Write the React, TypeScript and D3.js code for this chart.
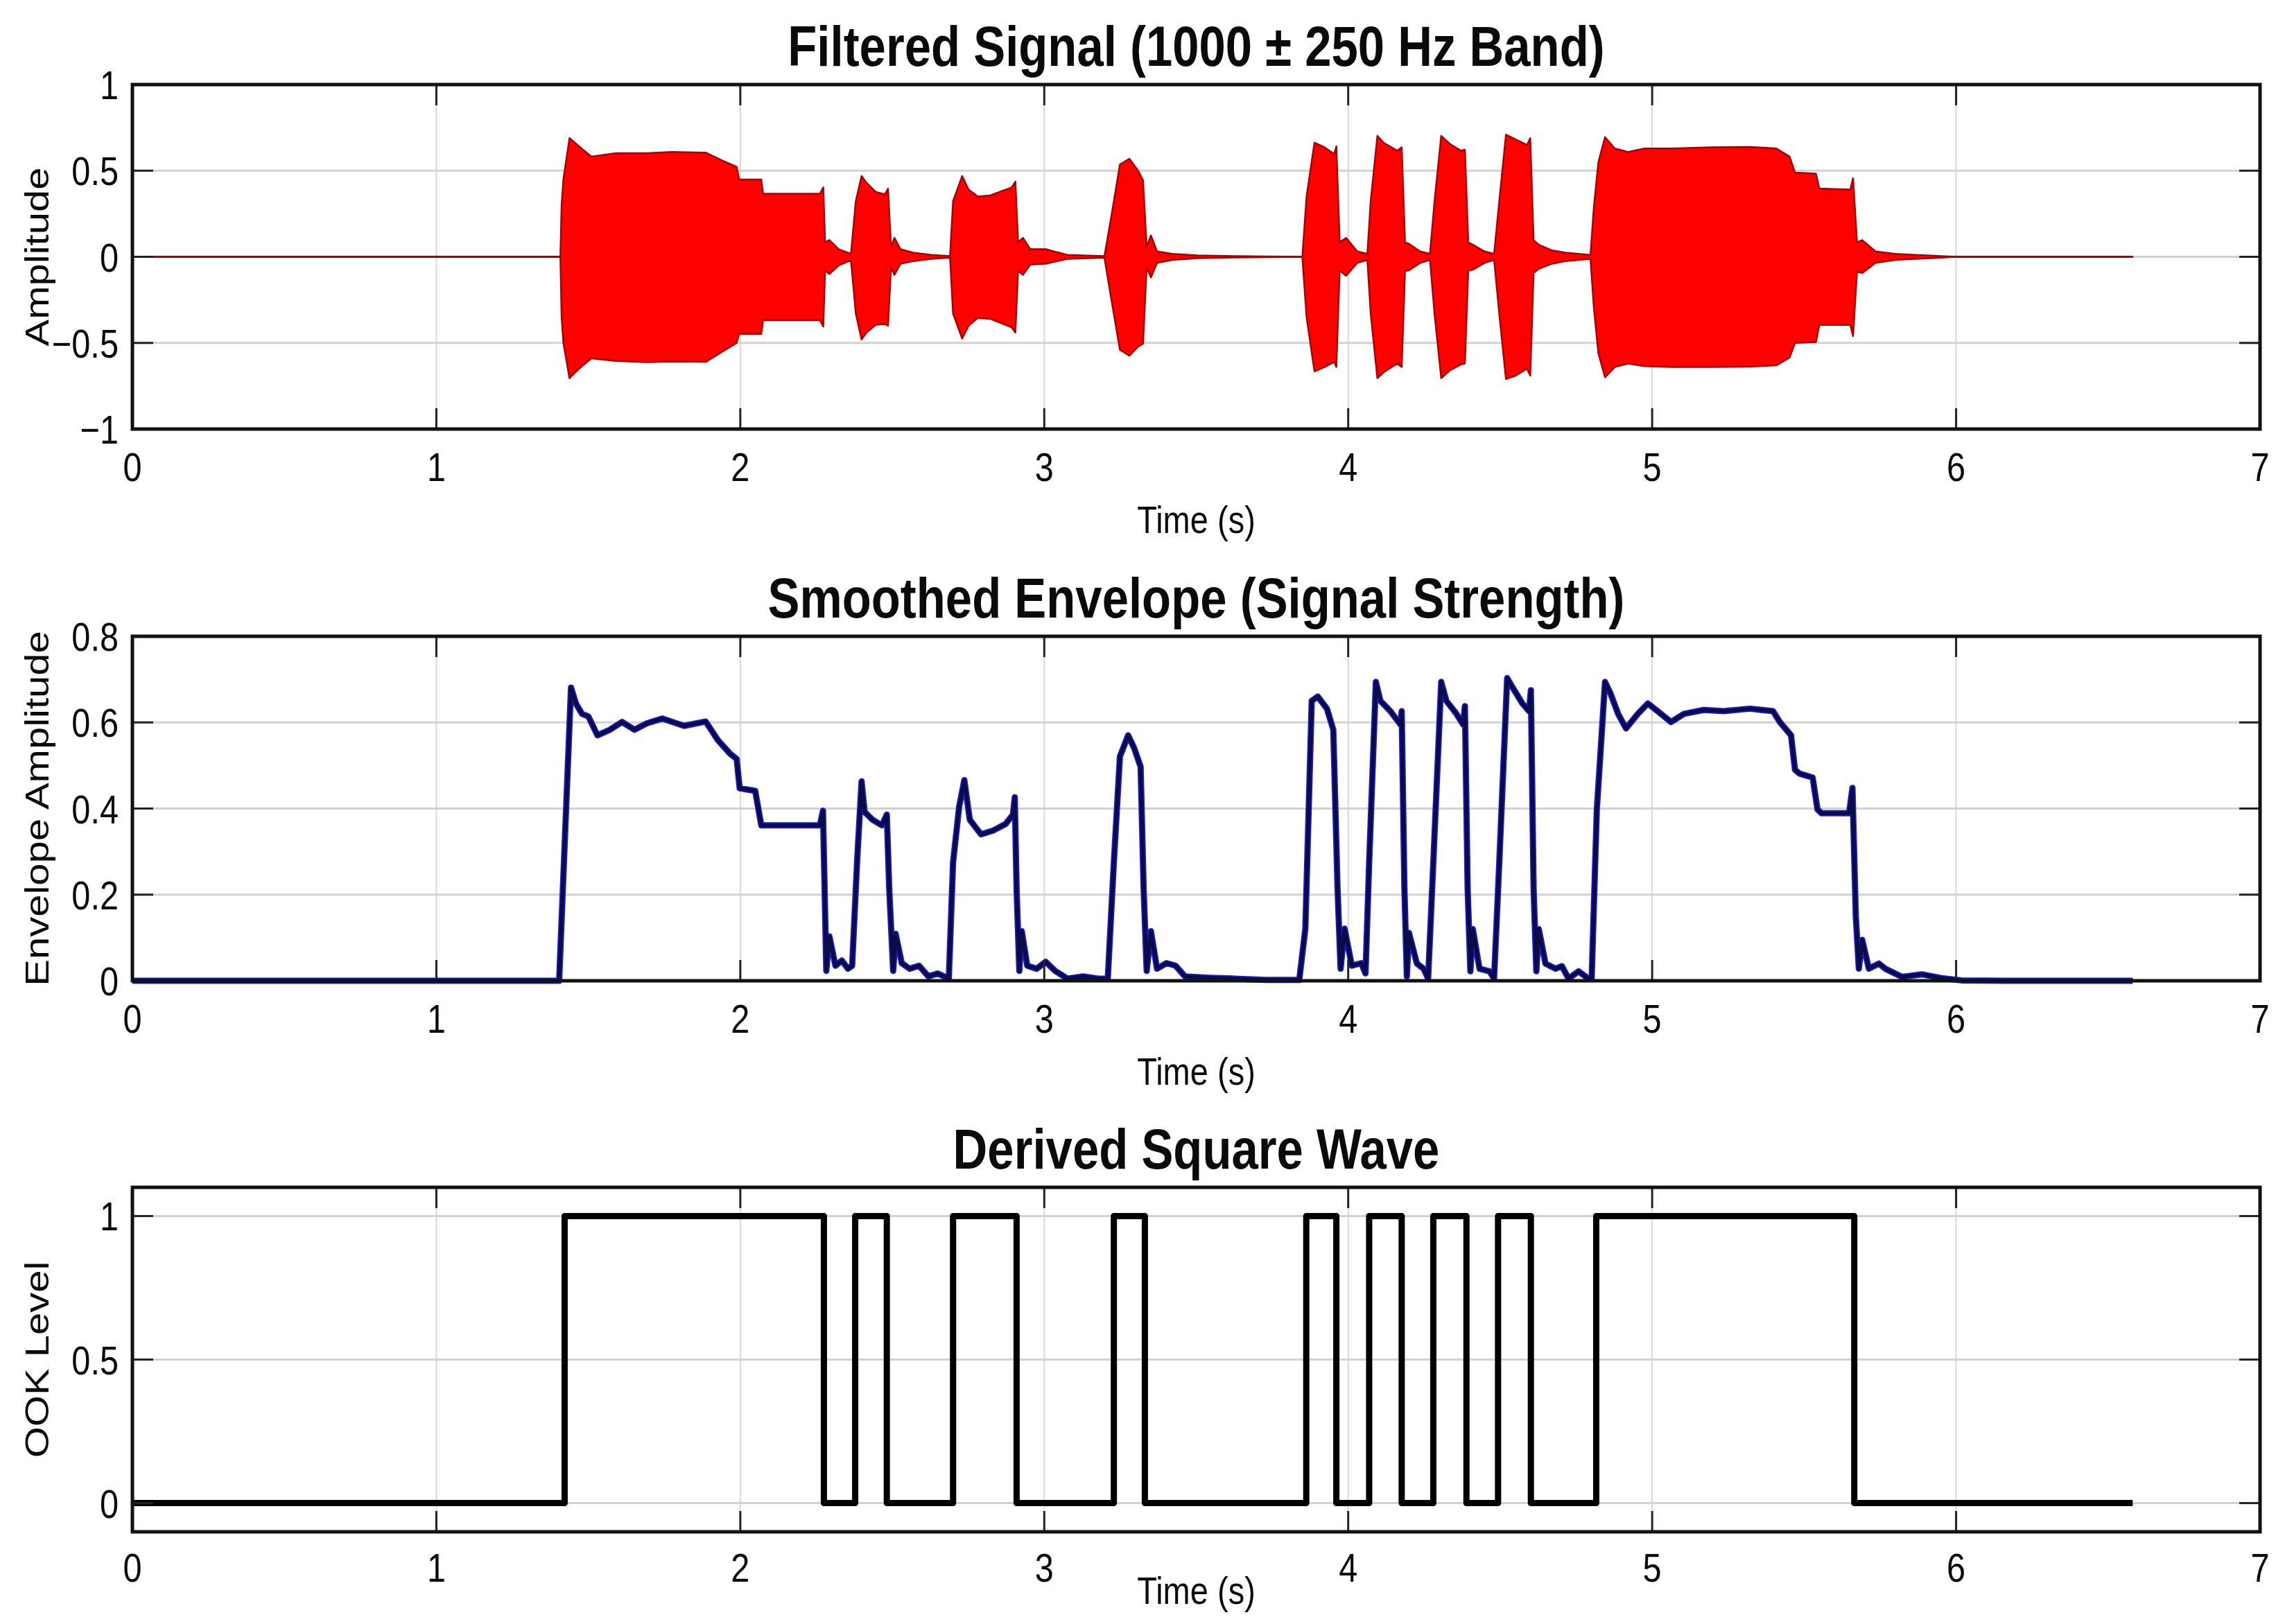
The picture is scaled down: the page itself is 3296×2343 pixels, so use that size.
import * as d3 from "d3";
import React from "react";

// ---- data ----
const xTicks = [0, 1, 2, 3, 4, 5, 6, 7];

// filtered signal: upper / lower edge of the oscillation band
const sigTime = [0, 1.408, 1.412, 1.418, 1.438, 1.469, 1.51, 1.591, 1.693, 1.774, 1.886, 1.937, 1.988, 1.996, 2.069, 2.075, 2.262, 2.273, 2.279, 2.293, 2.324, 2.364, 2.38, 2.399, 2.415, 2.446, 2.476, 2.486, 2.496, 2.507, 2.527, 2.568, 2.629, 2.69, 2.7, 2.73, 2.751, 2.781, 2.822, 2.893, 2.905, 2.914, 2.93, 2.954, 3.005, 3.076, 3.198, 3.219, 3.249, 3.28, 3.31, 3.325, 3.337, 3.351, 3.371, 3.422, 3.504, 3.626, 3.849, 3.863, 3.889, 3.922, 3.954, 3.961, 3.972, 3.993, 4.03, 4.063, 4.074, 4.096, 4.117, 4.161, 4.176, 4.187, 4.198, 4.237, 4.269, 4.284, 4.306, 4.334, 4.371, 4.384, 4.395, 4.41, 4.449, 4.48, 4.497, 4.519, 4.551, 4.588, 4.599, 4.61, 4.627, 4.671, 4.714, 4.758, 4.797, 4.808, 4.823, 4.845, 4.877, 4.921, 4.975, 5.062, 5.192, 5.322, 5.409, 5.452, 5.47, 5.539, 5.55, 5.652, 5.661, 5.674, 5.691, 5.735, 5.8, 5.865, 5.952, 5.995, 6.581];
const sigUpper = [0, 0, 0.3, 0.45, 0.689, 0.642, 0.582, 0.602, 0.602, 0.609, 0.605, 0.562, 0.523, 0.449, 0.449, 0.366, 0.366, 0.403, 0.084, 0.097, 0.044, 0.017, 0.323, 0.469, 0.43, 0.376, 0.363, 0.396, 0.057, 0.11, 0.044, 0.024, 0.011, 0.004, 0.323, 0.469, 0.39, 0.35, 0.356, 0.403, 0.436, 0.084, 0.11, 0.044, 0.044, 0.011, 0.004, 0.217, 0.536, 0.569, 0.497, 0.443, 0.057, 0.124, 0.031, 0.017, 0.008, 0.004, 0, 0.35, 0.662, 0.636, 0.596, 0.642, 0.084, 0.11, 0.031, 0.017, 0.323, 0.702, 0.662, 0.616, 0.636, 0.084, 0.077, 0.031, 0.017, 0.323, 0.702, 0.656, 0.616, 0.622, 0.084, 0.07, 0.031, 0.017, 0.323, 0.709, 0.682, 0.649, 0.689, 0.097, 0.07, 0.037, 0.024, 0.017, 0.011, 0.283, 0.549, 0.695, 0.629, 0.609, 0.629, 0.629, 0.636, 0.638, 0.629, 0.582, 0.489, 0.483, 0.396, 0.39, 0.456, 0.084, 0.097, 0.031, 0.017, 0.011, 0.004, 0, 0];
const sigLower = [0, 0, -0.35, -0.5, -0.705, -0.65, -0.59, -0.605, -0.612, -0.608, -0.61, -0.555, -0.5, -0.448, -0.448, -0.368, -0.368, -0.405, -0.08, -0.1, -0.05, -0.02, -0.33, -0.48, -0.44, -0.395, -0.39, -0.4, -0.06, -0.105, -0.04, -0.025, -0.012, -0.005, -0.33, -0.475, -0.4, -0.355, -0.36, -0.41, -0.44, -0.08, -0.105, -0.045, -0.04, -0.012, -0.005, -0.23, -0.54, -0.574, -0.52, -0.505, -0.06, -0.12, -0.035, -0.018, -0.008, -0.004, 0, -0.35, -0.665, -0.64, -0.61, -0.64, -0.08, -0.11, -0.035, -0.018, -0.33, -0.705, -0.67, -0.62, -0.64, -0.08, -0.08, -0.035, -0.018, -0.33, -0.705, -0.66, -0.625, -0.62, -0.08, -0.075, -0.035, -0.018, -0.33, -0.71, -0.69, -0.65, -0.69, -0.095, -0.07, -0.04, -0.025, -0.018, -0.012, -0.29, -0.56, -0.7, -0.64, -0.62, -0.635, -0.64, -0.64, -0.638, -0.63, -0.585, -0.5, -0.495, -0.395, -0.395, -0.46, -0.085, -0.095, -0.035, -0.018, -0.012, -0.005, 0, 0];

// smoothed envelope
const envTime = [0, 1.404, 1.443, 1.459, 1.479, 1.5, 1.53, 1.571, 1.611, 1.652, 1.693, 1.744, 1.815, 1.886, 1.927, 1.967, 1.988, 1.998, 2.049, 2.069, 2.262, 2.272, 2.283, 2.293, 2.313, 2.334, 2.354, 2.368, 2.385, 2.399, 2.409, 2.435, 2.466, 2.482, 2.49, 2.503, 2.511, 2.531, 2.557, 2.588, 2.619, 2.649, 2.686, 2.7, 2.72, 2.737, 2.755, 2.792, 2.832, 2.873, 2.897, 2.903, 2.909, 2.918, 2.926, 2.944, 2.975, 3.005, 3.036, 3.076, 3.127, 3.178, 3.209, 3.229, 3.249, 3.276, 3.296, 3.317, 3.327, 3.337, 3.351, 3.371, 3.402, 3.432, 3.463, 3.544, 3.626, 3.728, 3.839, 3.859, 3.88, 3.9, 3.93, 3.951, 3.965, 3.975, 3.988, 4.012, 4.043, 4.057, 4.069, 4.091, 4.106, 4.139, 4.172, 4.176, 4.185, 4.193, 4.2, 4.226, 4.248, 4.263, 4.28, 4.306, 4.323, 4.356, 4.378, 4.384, 4.393, 4.402, 4.41, 4.432, 4.465, 4.48, 4.497, 4.523, 4.541, 4.573, 4.595, 4.601, 4.61, 4.619, 4.627, 4.649, 4.682, 4.703, 4.725, 4.758, 4.79, 4.801, 4.818, 4.845, 4.862, 4.888, 4.914, 4.953, 4.986, 5.018, 5.062, 5.105, 5.17, 5.235, 5.322, 5.398, 5.42, 5.457, 5.47, 5.485, 5.528, 5.544, 5.557, 5.648, 5.659, 5.67, 5.68, 5.691, 5.713, 5.746, 5.767, 5.822, 5.887, 5.952, 6.017, 6.169, 6.581];
const envValue = [0, 0, 0.681, 0.644, 0.62, 0.614, 0.57, 0.583, 0.601, 0.583, 0.598, 0.609, 0.592, 0.602, 0.558, 0.527, 0.515, 0.447, 0.441, 0.361, 0.361, 0.395, 0.023, 0.103, 0.035, 0.047, 0.028, 0.035, 0.287, 0.463, 0.392, 0.374, 0.361, 0.386, 0.213, 0.023, 0.109, 0.041, 0.028, 0.035, 0.01, 0.017, 0.005, 0.275, 0.404, 0.466, 0.374, 0.34, 0.349, 0.364, 0.386, 0.426, 0.213, 0.023, 0.115, 0.035, 0.028, 0.044, 0.023, 0.005, 0.01, 0.005, 0.005, 0.275, 0.521, 0.57, 0.54, 0.497, 0.213, 0.023, 0.115, 0.028, 0.041, 0.035, 0.01, 0.007, 0.005, 0.002, 0.002, 0.121, 0.65, 0.66, 0.632, 0.583, 0.213, 0.028, 0.121, 0.035, 0.041, 0.017, 0.275, 0.694, 0.65, 0.626, 0.595, 0.626, 0.213, 0.01, 0.111, 0.04, 0.028, 0.005, 0.274, 0.694, 0.65, 0.62, 0.595, 0.638, 0.213, 0.022, 0.12, 0.028, 0.022, 0.005, 0.274, 0.703, 0.681, 0.644, 0.626, 0.675, 0.213, 0.022, 0.12, 0.04, 0.028, 0.034, 0.005, 0.022, 0.005, 0.005, 0.398, 0.694, 0.669, 0.62, 0.586, 0.62, 0.644, 0.626, 0.601, 0.62, 0.629, 0.626, 0.632, 0.626, 0.601, 0.57, 0.49, 0.481, 0.472, 0.398, 0.389, 0.389, 0.448, 0.151, 0.028, 0.095, 0.028, 0.04, 0.028, 0.009, 0.015, 0.006, 0.001, 0, 0];

// derived square wave (level holds until next switch time)
const ookTime = [0, 1.422, 2.275, 2.378, 2.482, 2.7, 2.909, 3.229, 3.331, 3.862, 3.961, 4.069, 4.176, 4.28, 4.389, 4.493, 4.601, 4.816, 5.665, 6.581];
const ookLevel = [0, 1, 0, 1, 0, 1, 0, 1, 0, 1, 0, 1, 0, 1, 0, 1, 0, 1, 0, 0];

const sigTicks = [-1, -0.5, 0, 0.5, 1];
const envTicks = [0, 0.2, 0.4, 0.6, 0.8];
const ookTicks = [0, 0.5, 1];

// ---- layout ----
const W = 3296, Hh = 2343;
const L = 191, R = 3260, PH = 497;
const TOPS = [122, 918, 1713];
const SX = 0.84;
const FONT = "'Liberation Sans', Arial, Helvetica, sans-serif";

const x = d3.scaleLinear().domain([0, 7]).range([L, R]);

const HText: React.FC<{ x: number; y: number; anchor?: string; size: number; bold?: boolean; children: React.ReactNode }> = ({ x, y, anchor = "middle", size, bold, children }) => (
    <text transform={`translate(${x},${y}) scale(${SX},1)`} textAnchor={anchor} fontSize={size} fontWeight={bold ? "bold" : "normal"} fontFamily={FONT} fill="#0a0a0a">{children}</text>
);

const VText: React.FC<{ x: number; y: number; size: number; children: React.ReactNode }> = ({ x, y, size, children }) => (
    <text transform={`translate(${x},${y}) scale(${SX},1) rotate(-90)`} textAnchor="middle" fontSize={size} fontFamily={FONT} fill="#0a0a0a">{children}</text>
);

const fmt = (v: number) => (v < 0 ? "\u2212" + String(-v) : String(v));

const Frame: React.FC<{ top: number; y: d3.ScaleLinear<number, number>; yTicks: number[]; title: string; ylabel: string; tickOff: number; xlabOff: number; children?: React.ReactNode }> = ({ top, y, yTicks, title, ylabel, tickOff, xlabOff, children }) => {
    const bottom = top + PH;
    const [d0, d1] = y.domain();
    const innerY = yTicks.filter(t => t > d0 && t < d1);
    const tl = 30;
    return (
        <g>
            {/* grid */}
            {xTicks.slice(1, -1).map(t => (<line key={"gx" + t} x1={x(t)} x2={x(t)} y1={top} y2={bottom} stroke="#d8d8d8" strokeWidth={2} />))}
            {innerY.map(t => (<line key={"gy" + t} x1={L} x2={R} y1={y(t)} y2={y(t)} stroke="#d2d2d2" strokeWidth={3} />))}
            {children}
            {/* ticks, inward on all sides */}
            {xTicks.map(t => (
                <g key={"tx" + t}>
                    <line x1={x(t)} x2={x(t)} y1={bottom} y2={bottom - tl} stroke="#222" strokeWidth={3} />
                    <line x1={x(t)} x2={x(t)} y1={top} y2={top + tl} stroke="#222" strokeWidth={3} />
                </g>
            ))}
            {yTicks.map(t => (
                <g key={"ty" + t}>
                    <line x1={L} x2={L + tl} y1={y(t)} y2={y(t)} stroke="#222" strokeWidth={3} />
                    <line x1={R} x2={R - tl} y1={y(t)} y2={y(t)} stroke="#222" strokeWidth={3} />
                </g>
            ))}
            <rect x={L} y={top} width={R - L} height={PH} fill="none" stroke="#111" strokeWidth={5} />
            {/* labels */}
            {xTicks.map(t => (<HText key={"lx" + t} x={x(t)} y={bottom + tickOff} size={58}>{t}</HText>))}
            {yTicks.map(t => (<HText key={"ly" + t} x={L - 20} y={y(t) + 21} anchor="end" size={58}>{fmt(t)}</HText>))}
            <HText x={(L + R) / 2} y={bottom + xlabOff} size={56}>Time (s)</HText>
            <VText x={70} y={top + PH / 2} size={58}>{ylabel}</VText>
            <HText x={(L + R) / 2} y={top - 27} size={82} bold>{title}</HText>
        </g>
    );
};

export default function App() {
    const y1 = d3.scaleLinear().domain([-1, 1]).range([TOPS[0] + PH, TOPS[0]]);
    const y2 = d3.scaleLinear().domain([0, 0.8]).range([TOPS[1] + PH, TOPS[1]]);
    const y3 = d3.scaleLinear().domain([-0.1, 1.1]).range([TOPS[2] + PH, TOPS[2]]);

    const sigArea = d3.area<number>().x((_, i) => x(sigTime[i])).y0((_, i) => y1(sigLower[i])).y1((_, i) => y1(sigUpper[i]));
    const envLine = d3.line<number>().x((_, i) => x(envTime[i])).y(v => y2(v));
    const ookLine = d3.line<number>().x((_, i) => x(ookTime[i])).y(v => y3(v)).curve(d3.curveStepAfter);

    return (
        <div style={{ position: "absolute", left: 0, top: 0 }}>
            <svg width={W} height={Hh} viewBox={`0 0 ${W} ${Hh}`} style={{ display: "block", background: "#fff" }}>
                <Frame top={TOPS[0]} y={y1} yTicks={sigTicks} title="Filtered Signal (1000 ± 250 Hz Band)" ylabel="Amplitude" tickOff={75} xlabOff={150}>
                    <line x1={x(0)} x2={x(6.581)} y1={y1(0)} y2={y1(0)} stroke="#8a1a1a" strokeWidth={3} />
                    <path d={sigArea(sigUpper)!} fill="#ff0000" stroke="#a80000" strokeWidth={2.5} strokeLinejoin="round" />
                </Frame>
                <Frame top={TOPS[1]} y={y2} yTicks={envTicks} title="Smoothed Envelope (Signal Strength)" ylabel="Envelope Amplitude" tickOff={75} xlabOff={150}>
                    <path d={envLine(envValue)!} fill="none" stroke="#1a1ad8" strokeWidth={9} strokeLinejoin="round" />
                    <path d={envLine(envValue)!} fill="none" stroke="#0c0c44" strokeWidth={5.5} strokeLinejoin="round" />
                </Frame>
                <Frame top={TOPS[2]} y={y3} yTicks={ookTicks} title="Derived Square Wave" ylabel="OOK Level" tickOff={72} xlabOff={104}>
                    <path d={ookLine(ookLevel)!} fill="none" stroke="#000" strokeWidth={9} strokeLinejoin="round" />
                </Frame>
            </svg>
        </div>
    );
}
